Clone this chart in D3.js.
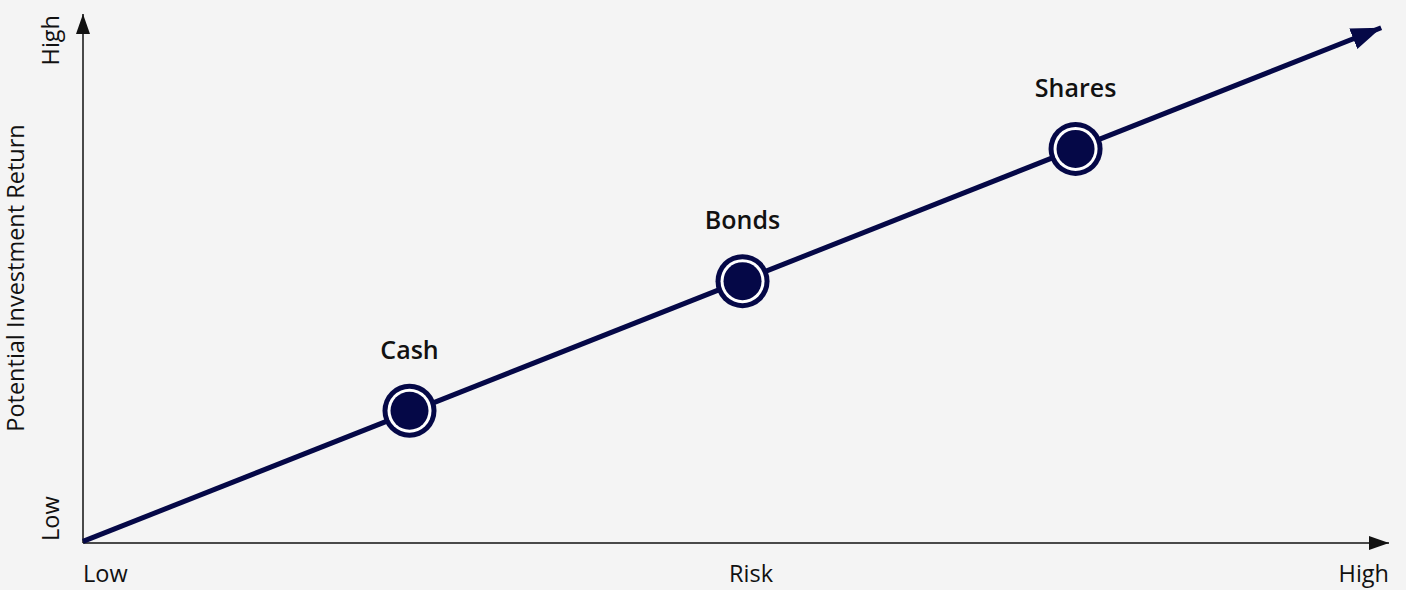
<!DOCTYPE html>
<html>
<head>
<meta charset="utf-8">
<script src="https://cdn.jsdelivr.net/npm/d3@7"></script>
<style>
  body { margin: 0; background: #f4f4f4; }
  svg { display: block; }
  text { font-family: "Open Sans", "Noto Sans", sans-serif; fill: #111; }
</style>
</head>
<body>
<script>
// asset classes along the risk/return line
var categories = ["Cash", "Bonds", "Shares"];
var riskValues = [25, 50.5, 76];
var returnValues = [25, 49.5, 74.5];
var trendStart = [0, 0.3];
var trendEnd = [99.4, 97.4];
var xTickLabels = ["Low", "Risk", "High"];
var yTickLabels = ["Low", "High"];
var yTitle = "Potential Investment Return";

var W = 1406, H = 590;
var navy = "#050847";

var svg = d3.select("body").append("svg")
    .attr("width", W)
    .attr("height", H);

svg.append("rect").attr("width", W).attr("height", H).attr("fill", "#f4f4f4");

var x = d3.scaleLinear().domain([0, 100]).range([83, 1389]);
var y = d3.scaleLinear().domain([0, 100]).range([543, 14]);

var defs = svg.append("defs");
defs.append("marker")
    .attr("id", "axisArrow")
    .attr("viewBox", "0 0 20 14")
    .attr("refX", 20).attr("refY", 7)
    .attr("markerWidth", 20).attr("markerHeight", 14)
    .attr("markerUnits", "userSpaceOnUse")
    .attr("orient", "auto")
    .append("path").attr("d", "M0,0L20,7L0,14Z").attr("fill", "#111");

defs.append("marker")
    .attr("id", "trendArrow")
    .attr("viewBox", "0 0 30 22")
    .attr("refX", 30).attr("refY", 11)
    .attr("markerWidth", 30).attr("markerHeight", 22)
    .attr("markerUnits", "userSpaceOnUse")
    .attr("orient", "auto")
    .append("path").attr("d", "M0,0L30,11L0,22Z").attr("fill", navy);

// axes
svg.append("line")
    .attr("x1", x(0)).attr("y1", y(0))
    .attr("x2", x(0)).attr("y2", y(100))
    .attr("stroke", "#111").attr("stroke-width", 1.5)
    .attr("marker-end", "url(#axisArrow)");

svg.append("line")
    .attr("x1", x(0)).attr("y1", y(0))
    .attr("x2", x(100)).attr("y2", y(0))
    .attr("stroke", "#111").attr("stroke-width", 1.5)
    .attr("marker-end", "url(#axisArrow)");

// x labels
var xPos = [x(0), 751, x(100)];
var xAnchor = ["start", "middle", "end"];
svg.selectAll(".xlab").data(xTickLabels).enter().append("text")
    .attr("class", "xlab")
    .attr("x", function(d, i) { return xPos[i]; })
    .attr("y", 582)
    .attr("text-anchor", function(d, i) { return xAnchor[i]; })
    .style("font-size", "23.5px")
    .text(function(d) { return d; });

// y labels
var yPos = [y(0), y(100)];
var yAnchor = ["start", "end"];
svg.selectAll(".ylab").data(yTickLabels).enter().append("text")
    .attr("class", "ylab")
    .attr("transform", function(d, i) { return "translate(59," + (yPos[i] + (i ? 1 : -2)) + ") rotate(-90)"; })
    .attr("text-anchor", function(d, i) { return yAnchor[i]; })
    .style("font-size", "23.5px")
    .text(function(d) { return d; });

svg.append("text")
    .attr("transform", "translate(24,278) rotate(-90)")
    .attr("text-anchor", "middle")
    .style("font-size", "23.5px")
    .text(yTitle);

// trend line
svg.append("line")
    .attr("x1", x(trendStart[0])).attr("y1", y(trendStart[1]))
    .attr("x2", x(trendEnd[0])).attr("y2", y(trendEnd[1]))
    .attr("stroke", navy).attr("stroke-width", 5)
    .attr("marker-end", "url(#trendArrow)");

// points
var pts = svg.selectAll(".pt").data(categories).enter().append("g")
    .attr("class", "pt")
    .attr("transform", function(d, i) { return "translate(" + x(riskValues[i]) + "," + y(returnValues[i]) + ")"; });

pts.append("circle").attr("r", 27).attr("fill", navy);
pts.append("circle").attr("r", 22).attr("fill", "#fff");
pts.append("circle").attr("r", 19).attr("fill", navy);

pts.append("text")
    .attr("y", -52)
    .attr("text-anchor", "middle")
    .style("font-size", "25px")
    .style("font-weight", "600")
    .text(function(d) { return d; });
</script>
</body>
</html>
